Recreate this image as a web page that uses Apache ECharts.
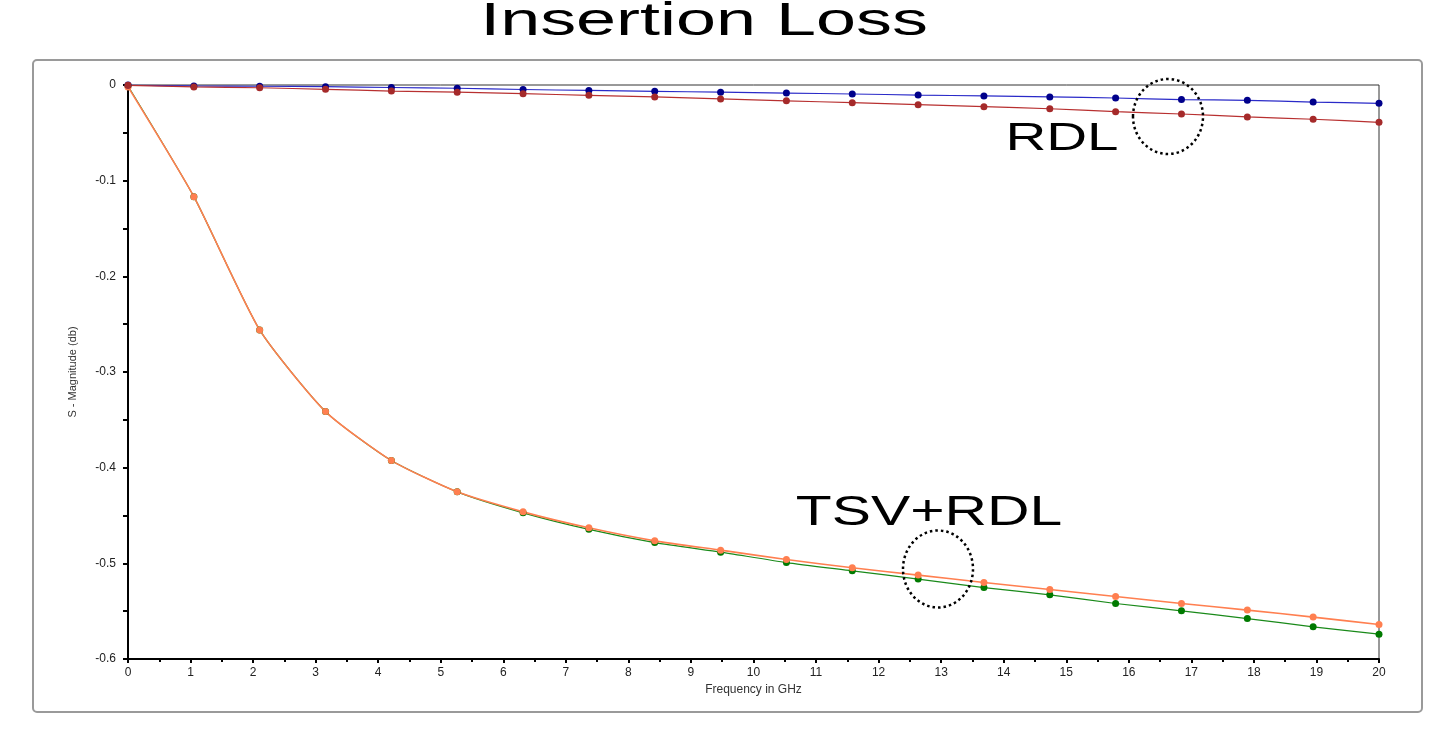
<!DOCTYPE html>
<html>
<head>
<meta charset="utf-8">
<script src="https://cdn.jsdelivr.net/npm/echarts@6/dist/echarts.min.js"></script>
<style>
html,body{margin:0;padding:0;background:#ffffff;}
#chart{width:1454px;height:739px;}
</style>
</head>
<body>
<div id="chart"></div>
<script>
// Frequency points (GHz)
const freqGHz = [0, 1.053, 2.105, 3.158, 4.211, 5.263, 6.316, 7.368, 8.421, 9.474,
                 10.526, 11.579, 12.632, 13.684, 14.737, 15.789, 16.842, 17.895, 18.947, 20];

// RDL curves (S-magnitude in dB)
const rdlBlue = [0, -0.0010, -0.0013, -0.0018, -0.0026, -0.0034, -0.0047, -0.0057, -0.0066, -0.0075,
                 -0.0084, -0.0094, -0.0105, -0.0114, -0.0125, -0.0136, -0.0152, -0.0160, -0.0178, -0.0192];
const rdlRed  = [-0.0003, -0.0020, -0.0029, -0.0045, -0.0063, -0.0075, -0.0091, -0.0108, -0.0125, -0.0146,
                 -0.0165, -0.0185, -0.0206, -0.0227, -0.0248, -0.0279, -0.0303, -0.0334, -0.0358, -0.0390];

// TSV+RDL curves
const tsvGreen  = [-0.001, -0.1167, -0.2560, -0.3414, -0.3926, -0.4253, -0.4472, -0.4645, -0.4783, -0.4883,
                   -0.4992, -0.5078, -0.5165, -0.5253, -0.5329, -0.5420, -0.5496, -0.5577, -0.5664, -0.5740];
const tsvOrange = [-0.002, -0.1167, -0.2560, -0.3414, -0.3926, -0.4253, -0.4462, -0.4629, -0.4765, -0.4862,
                   -0.4960, -0.5047, -0.5123, -0.5200, -0.5274, -0.5347, -0.5420, -0.5489, -0.5562, -0.5640];

const titleText = 'Insertion Loss';
const xName = 'Frequency in GHz';
const yName = 'S - Magnitude (db)';
const label1 = 'RDL';
const label2 = 'TSV+RDL';

function pairs(xs, ys){ return xs.map((x,i)=>[x, ys[i]]); }

function mkSeries(name, ys, lineColor, markColor, w){
  return {
    name: name,
    type: 'line',
    data: pairs(freqGHz, ys),
    smooth: 0.2,
    symbol: 'circle',
    symbolSize: 7,
    showSymbol: true,
    lineStyle: {color: lineColor, width: w},
    itemStyle: {color: markColor, borderWidth: 0},
    emphasis: {disabled: true},
    animation: false
  };
}

const chart = echarts.init(document.getElementById('chart'), null, {renderer:'canvas'});
const font = '"Liberation Sans", Arial, sans-serif';

chart.setOption({
  backgroundColor: '#ffffff',
  animation: false,
  grid: {left: 128, right: 75, top: 85, bottom: 80, show: true, borderColor: '#333', borderWidth: 1, backgroundColor: 'transparent'},
  xAxis: {
    type: 'value', min: 0, max: 20, interval: 1,
    name: xName, nameLocation: 'middle', nameGap: 24,
    nameTextStyle: {fontFamily: font, fontSize: 12, color: '#333'},
    axisLine: {show: true, onZero: false, lineStyle: {color: '#000', width: 2}},
    axisTick: {show: true, length: 4, lineStyle: {color: '#000', width: 2}},
    minorTick: {show: true, splitNumber: 2, length: 3, lineStyle: {color: '#000', width: 2}},
    splitLine: {show: false},
    axisLabel: {fontFamily: font, fontSize: 12, color: '#222', margin: 8}
  },
  yAxis: {
    type: 'value', min: -0.6, max: 0, interval: 0.1,
    name: yName, nameLocation: 'middle', nameGap: 50, nameRotate: 90,
    nameTextStyle: {fontFamily: font, fontSize: 11, color: '#333'},
    axisLine: {show: true, onZero: false, lineStyle: {color: '#000', width: 2}},
    axisTick: {show: true, length: 5, lineStyle: {color: '#000', width: 2}},
    minorTick: {show: true, splitNumber: 2, length: 5, lineStyle: {color: '#000', width: 2}},
    splitLine: {show: false},
    axisLabel: {fontFamily: font, fontSize: 12, color: '#222', margin: 12,
      formatter: v => (Math.abs(v) < 1e-9 ? '0' : v.toFixed(1))}
  },
  series: [
    mkSeries('TSV+RDL b', tsvGreen, '#1a8a1a', '#007a00', 1.2),
    mkSeries('TSV+RDL a', tsvOrange, '#ff7f50', '#ff7f50', 1.6),
    mkSeries('RDL a', rdlBlue, '#2a2ac8', '#00008b', 1.2),
    mkSeries('RDL b', rdlRed, '#b83030', '#a52a2a', 1.2)
  ],
  graphic: [
    {type: 'rect', z: -10, silent: true,
     shape: {x: 33, y: 60, width: 1389, height: 652, r: 4},
     style: {fill: 'none', stroke: '#9a9a9a', lineWidth: 2}},
    {type: 'text', x: 704, y: 22, scaleX: 1.53, silent: true,
     style: {text: titleText, font: '47px ' + font, fill: '#000', textAlign: 'center', textVerticalAlign: 'middle'}},
    {type: 'text', x: 1062, y: 139, scaleX: 1.45, silent: true,
     style: {text: label1, font: '39px ' + font, fill: '#000', textAlign: 'center', textVerticalAlign: 'middle'}},
    {type: 'text', x: 929, y: 513, scaleX: 1.4, silent: true,
     style: {text: label2, font: '42px ' + font, fill: '#000', textAlign: 'center', textVerticalAlign: 'middle'}},
    {type: 'ellipse', silent: true, z: 100,
     shape: {cx: 1168, cy: 116.5, rx: 35, ry: 37.5},
     style: {fill: 'none', stroke: '#000', lineWidth: 2.5, lineDash: [2.5, 3]}},
    {type: 'ellipse', silent: true, z: 100,
     shape: {cx: 938, cy: 569, rx: 35, ry: 38.5},
     style: {fill: 'none', stroke: '#000', lineWidth: 2.5, lineDash: [2.5, 3]}}
  ]
});
</script>
</body>
</html>
